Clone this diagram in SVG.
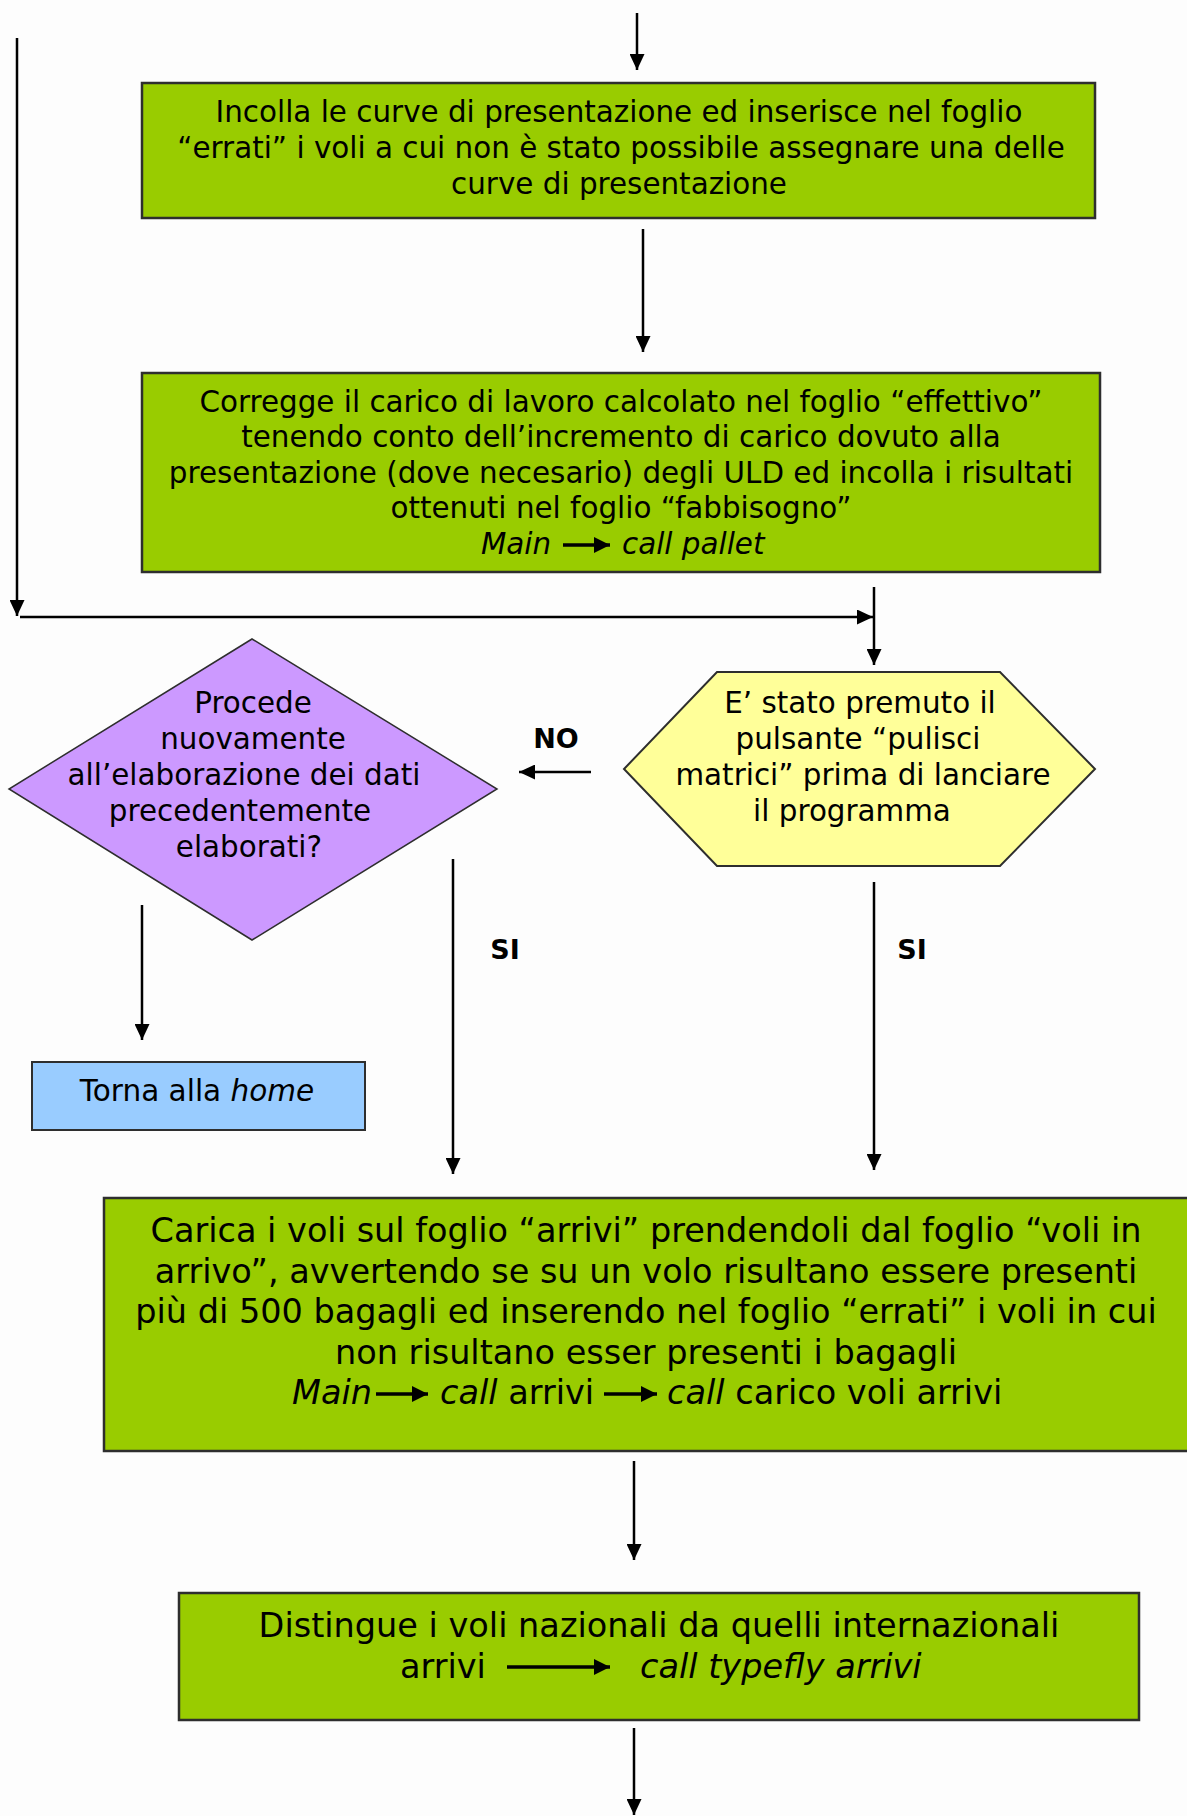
<svg xmlns="http://www.w3.org/2000/svg" width="1187" height="1816" viewBox="0 0 1187 1816">
  <defs>
    <marker id="arrow" markerUnits="userSpaceOnUse" markerWidth="16" markerHeight="15" refX="16" refY="7.5" orient="auto">
      <path d="M0,0 L16,7.5 L0,15 Z" fill="#000"/>
    </marker>
    <marker id="inline-arrow" markerUnits="userSpaceOnUse" markerWidth="16" markerHeight="16" refX="16" refY="8" orient="auto">
      <path d="M0,0 L16,8 L0,16 Z" fill="#000"/>
    </marker>
    <style>
      text { font-family: "DejaVu Sans", Verdana, sans-serif; fill: #000; }
      .t29 { font-size: 29.4px; }
      .t33 { font-size: 33.5px; }
      .t27 { font-size: 29.5px; }
      .mid { text-anchor: middle; }
      .it { font-style: italic; }
      .lbl { font-size: 27px; font-weight: bold; text-anchor: middle; }
      .process { fill: #99CC00; stroke: #2e2e2e; stroke-width: 2.5; }
      .decision-y { fill: #FFFF99; stroke: #2e2e2e; stroke-width: 2; }
      .decision-p { fill: #CC99FF; stroke: #2e2e2e; stroke-width: 1.5; }
      .terminal { fill: #99CCFF; stroke: #2e2e2e; stroke-width: 2; }
      .conn { stroke: #000; stroke-width: 2.5; fill: none; marker-end: url(#arrow); }
      .inl { stroke: #000; stroke-width: 3.5; marker-end: url(#inline-arrow); }
    </style>
  </defs>

  <rect x="0" y="0" width="1187" height="1816" fill="#FDFDFD"/>

  <!-- connectors -->
  <g id="connectors">
    <line class="conn" x1="637" y1="13" x2="637" y2="70"/>
    <line class="conn" x1="643" y1="229" x2="643" y2="352"/>
    <line class="conn" x1="17" y1="38" x2="17" y2="616"/>
    <line class="conn" x1="20" y1="617" x2="873" y2="617"/>
    <line class="conn" x1="874" y1="587" x2="874" y2="665"/>
    <line class="conn" x1="591" y1="772" x2="519" y2="772"/>
    <line class="conn" x1="142" y1="905" x2="142" y2="1040"/>
    <line class="conn" x1="453" y1="859" x2="453" y2="1174"/>
    <line class="conn" x1="874" y1="882" x2="874" y2="1170"/>
    <line class="conn" x1="634" y1="1461" x2="634" y2="1560"/>
    <line class="conn" x1="634" y1="1728" x2="634" y2="1815"/>
    <text class="lbl" x="556" y="748">NO</text>
    <text class="lbl" x="505" y="959">SI</text>
    <text class="lbl" x="912" y="959">SI</text>
  </g>

  <!-- paste presentation curves -->
  <g id="node-incolla">
    <rect class="process" x="142" y="83" width="953" height="135"/>
    <text class="t29 mid" x="619" y="122">Incolla le curve di presentazione ed inserisce nel foglio</text>
    <text class="t29 mid" x="621" y="158">“errati” i voli a cui non è stato possibile assegnare una delle</text>
    <text class="t29 mid" x="619" y="194">curve di presentazione</text>
  </g>

  <!-- workload correction -->
  <g id="node-corregge">
    <rect class="process" x="142" y="373" width="958" height="199"/>
    <text class="t29 mid" x="621" y="412">Corregge il carico di lavoro calcolato nel foglio “effettivo”</text>
    <text class="t29 mid" x="621" y="447">tenendo conto dell’incremento di carico dovuto alla</text>
    <text class="t29 mid" x="621" y="483">presentazione (dove necesario) degli ULD ed incolla i risultati</text>
    <text class="t29 mid" x="621" y="518">ottenuti nel foglio “fabbisogno”</text>
    <text class="t29 it" x="481" y="554">Main</text>
    <line class="inl" x1="563" y1="545" x2="610" y2="545"/>
    <text class="t29 it" x="622" y="554">call pallet</text>
  </g>

  <!-- clear-matrices check -->
  <g id="node-pulisci">
    <polygon class="decision-y" points="717,672 1000,672 1095,769 1000,866 717,866 624,769"/>
    <text class="t29 mid" x="860" y="713">E’ stato premuto il</text>
    <text class="t29 mid" x="858" y="749">pulsante “pulisci</text>
    <text class="t29 mid" x="863" y="785">matrici” prima di lanciare</text>
    <text class="t29 mid" x="852" y="821">il programma</text>
  </g>

  <!-- reprocess question -->
  <g id="node-procede">
    <polygon class="decision-p" points="252,639 497,789 252,940 9,789"/>
    <text class="t29 mid" x="253" y="713">Procede</text>
    <text class="t29 mid" x="253" y="749">nuovamente</text>
    <text class="t29 mid" x="244" y="785">all’elaborazione dei dati</text>
    <text class="t29 mid" x="240" y="821">precedentemente</text>
    <text class="t29 mid" x="249" y="857">elaborati?</text>
  </g>

  <!-- back to home -->
  <g id="node-home">
    <rect class="terminal" x="32" y="1062" width="333" height="68"/>
    <text class="t27 mid" x="197" y="1101">Torna alla <tspan class="it">home</tspan></text>
  </g>

  <!-- load arrivals -->
  <g id="node-carica">
    <rect class="process" x="104" y="1198" width="1090" height="253"/>
    <text class="t33 mid" x="646" y="1242">Carica i voli sul foglio “arrivi” prendendoli dal foglio “voli in</text>
    <text class="t33 mid" x="646" y="1283">arrivo”, avvertendo se su un volo risultano essere presenti</text>
    <text class="t33 mid" x="646" y="1323">più di 500 bagagli ed inserendo nel foglio “errati” i voli in cui</text>
    <text class="t33 mid" x="646" y="1364">non risultano esser presenti i bagagli</text>
    <text class="t33 it" x="292" y="1404">Main</text>
    <line class="inl" x1="376" y1="1394" x2="428" y2="1394"/>
    <text class="t33" x="440" y="1404"><tspan class="it">call</tspan> arrivi</text>
    <line class="inl" x1="604" y1="1394" x2="657" y2="1394"/>
    <text class="t33" x="667" y="1404"><tspan class="it">call</tspan> carico voli arrivi</text>
  </g>

  <!-- flight type split -->
  <g id="node-distingue">
    <rect class="process" x="179" y="1593" width="960" height="127"/>
    <text class="t33 mid" x="659" y="1637">Distingue i voli nazionali da quelli internazionali</text>
    <text class="t33" x="400" y="1678">arrivi</text>
    <line class="inl" x1="507" y1="1667" x2="610" y2="1667"/>
    <text class="t33 it" x="640" y="1678">call typefly arrivi</text>
  </g>
</svg>
